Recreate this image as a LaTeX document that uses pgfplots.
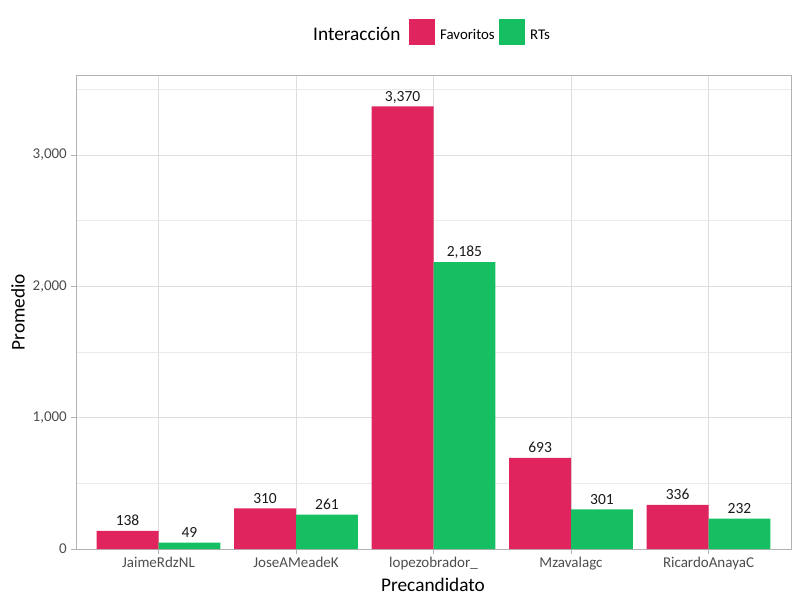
\documentclass[border=0pt]{standalone}
\usepackage{pgfplots}
\pgfplotsset{compat=1.18}
\usepackage{fontspec}
\setmainfont{Carlito}
\definecolor{fav}{HTML}{E0245E}
\definecolor{rts}{HTML}{17BF63}
\definecolor{gridmaj}{HTML}{DEDEDE}
\definecolor{gridmin}{HTML}{EBEBEB}
\definecolor{bordercol}{HTML}{B3B3B3}
\definecolor{ticklab}{HTML}{4D4D4D}
\definecolor{labtext}{HTML}{1A1A1A}
\begin{document}
\begin{tikzpicture}[x=1pt,y=1pt]
\path[use as bounding box] (0,0) rectangle (800,600);
\begin{axis}[
  at={(76pt,51pt)}, anchor=south west,
  width=715pt, height=474pt, scale only axis,
  xmin=-0.6, xmax=4.6, ymin=0, ymax=3609,
  ybar, bar width=0.45,
  xtick={0,1,2,3,4},
  xticklabels={JaimeRdzNL,JoseAMeadeK,lopezobrador\_,Mzavalagc,RicardoAnayaC},
  ytick={0,1000,2000,3000},
  minor ytick={500,1500,2500,3500},
  xmajorgrids, ymajorgrids, yminorgrids,
  major grid style={draw=gridmaj, line width=0.6pt},
  minor grid style={draw=gridmin, line width=0.4pt},
  axis line style={draw=bordercol, line width=0.8pt},
  tick style={draw=bordercol, line width=0.6pt},
  tick align=outside, major tick length=5pt, minor tick length=0pt,
  tick pos=left,
  scaled y ticks=false,
  /pgf/number format/.cd, assume math mode=true, 1000 sep={,}, fixed, precision=0,
  /pgfplots/.cd,
  tick label style={font=\fontsize{15}{15}\selectfont, text=ticklab},
  yticklabel style={inner sep=0pt, xshift=-4pt},
  xticklabel style={inner sep=0pt, yshift=-3pt},
  nodes near coords,
  nodes near coords style={font=\fontsize{15.5}{15.5}\selectfont, text=labtext, anchor=south, inner sep=0pt, text depth=0pt, yshift=5pt},
]
\addplot[fill=fav, draw=none, bar shift=-0.225] coordinates {(0,138) (1,310) (2,3370) (3,693) (4,336)};
\addplot[fill=rts, draw=none, bar shift=0.225] coordinates {(0,49) (1,261) (2,2185) (3,301) (4,232)};
\end{axis}
\node[font=\fontsize{19.3}{19.3}\selectfont, text=black, inner sep=0pt] at (433,15) {Precandidato};
\node[font=\fontsize{19.3}{19.3}\selectfont, text=black, inner sep=0pt, rotate=90] at (18,288) {Promedio};
\node[font=\fontsize{19.3}{19.3}\selectfont, text=black, inner sep=0pt, anchor=base west] at (313,559.3) {Interacción};
\fill[fav] (409,555) rectangle (435,581);
\fill[rts] (499,555) rectangle (525,581);
\node[font=\fontsize{14.8}{14.8}\selectfont, text=black, inner sep=0pt, anchor=base west] at (440,560.7) {Favoritos};
\node[font=\fontsize{14.8}{14.8}\selectfont, text=black, inner sep=0pt, anchor=base west] at (530,560.7) {RTs};
\end{tikzpicture}
\end{document}
